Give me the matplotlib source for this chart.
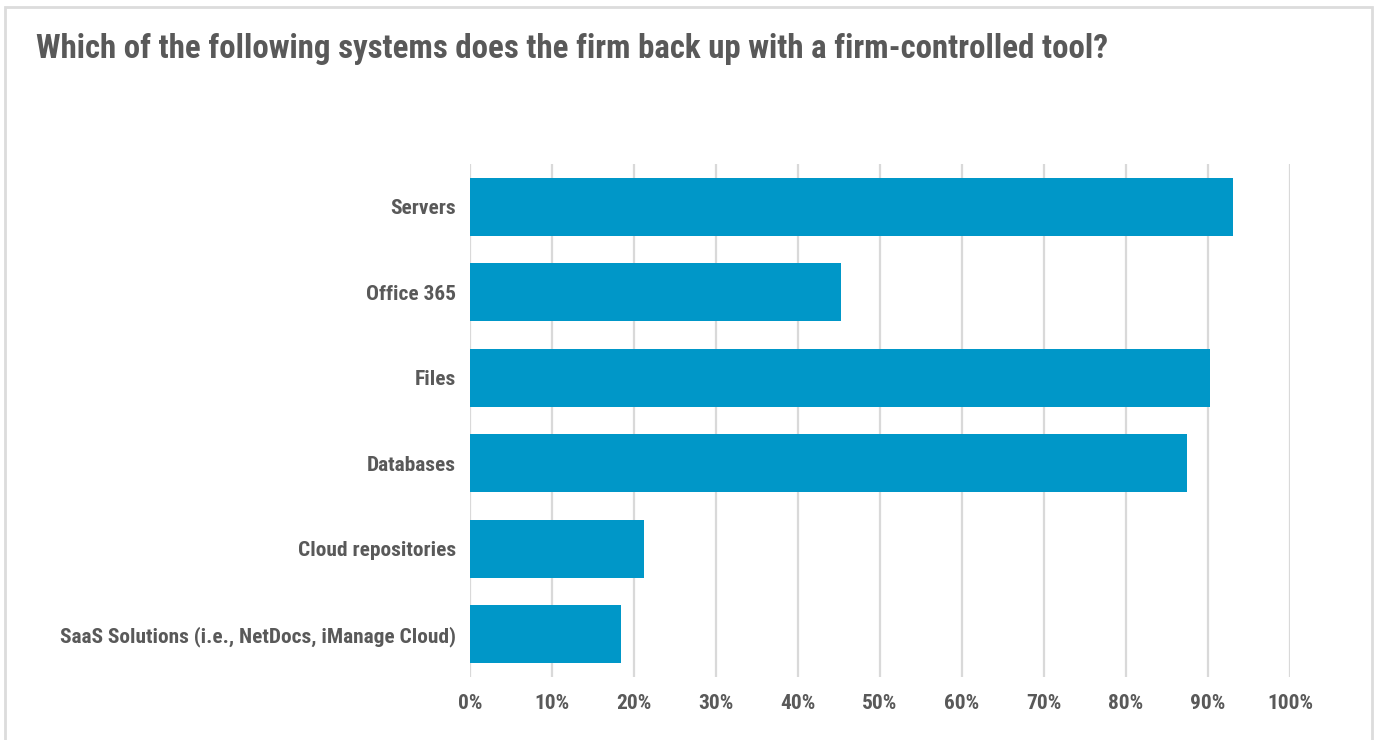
import matplotlib
matplotlib.use("Agg")
import matplotlib.pyplot as plt
from matplotlib import font_manager as fm
from matplotlib.patches import Rectangle

categories = [
    "Servers",
    "Office 365",
    "Files",
    "Databases",
    "Cloud repositories",
    "SaaS Solutions (i.e., NetDocs, iManage Cloud)",
]
values = [93.1, 45.2, 90.3, 87.5, 21.2, 18.4]
xticks = [0, 10, 20, 30, 40, 50, 60, 70, 80, 90, 100]
xtick_labels = [f"{t}%" for t in xticks]
title = "Which of the following systems does the firm back up with a firm-controlled tool?"


def pick_font():
    names = {f.name for f in fm.fontManager.ttflist}
    for cand in ["Roboto Condensed", "Liberation Sans Narrow", "Open Sans Condensed"]:
        if cand in names:
            return cand, "normal"
    return "Roboto", "normal"


family, stretch = pick_font()
text_color = "#595959"
bar_color = "#0097c8"
grid_color = "#d9d9d9"

fig = plt.figure(figsize=(13.77, 7.40), dpi=100)
W, H = 1377, 740
ax = fig.add_axes([470 / W, 1 - 677 / H, 820 / W, (677 - 164) / H])

ypos = list(range(len(categories)))
ax.barh(ypos, values, height=0.675, color=bar_color, zorder=3)
ax.set_ylim(len(categories) - 0.5, -0.5)
ax.set_xlim(0, 100)
ax.set_yticks(ypos)
ax.set_yticklabels(categories)
ax.set_xticks(xticks)
ax.set_xticklabels(xtick_labels)
ax.grid(axis="x", color=grid_color, linewidth=1.6, zorder=0)
for s in ax.spines.values():
    s.set_visible(False)
ax.tick_params(length=0)
ax.tick_params(axis="y", pad=10)
ax.tick_params(axis="x", pad=12)
for lbl in ax.get_yticklabels() + ax.get_xticklabels():
    lbl.set_fontfamily(family)
    lbl.set_fontstretch(stretch)
    lbl.set_fontweight("bold")
    lbl.set_fontsize(15.4)
    lbl.set_color(text_color)

fig.text(36 / W, 1 - 49 / H, title, ha="left", va="center", fontsize=23.7,
         fontweight="bold", family=family, fontstretch=stretch, color=text_color)

# outer frame
fig.patches.append(Rectangle((5 / W, -0.05), 1367 / W, 1.05 - 7 / H,
                             transform=fig.transFigure, fill=False,
                             edgecolor="#dcdcdc", linewidth=2))

fig.savefig("out.png", dpi=100, facecolor="white")
